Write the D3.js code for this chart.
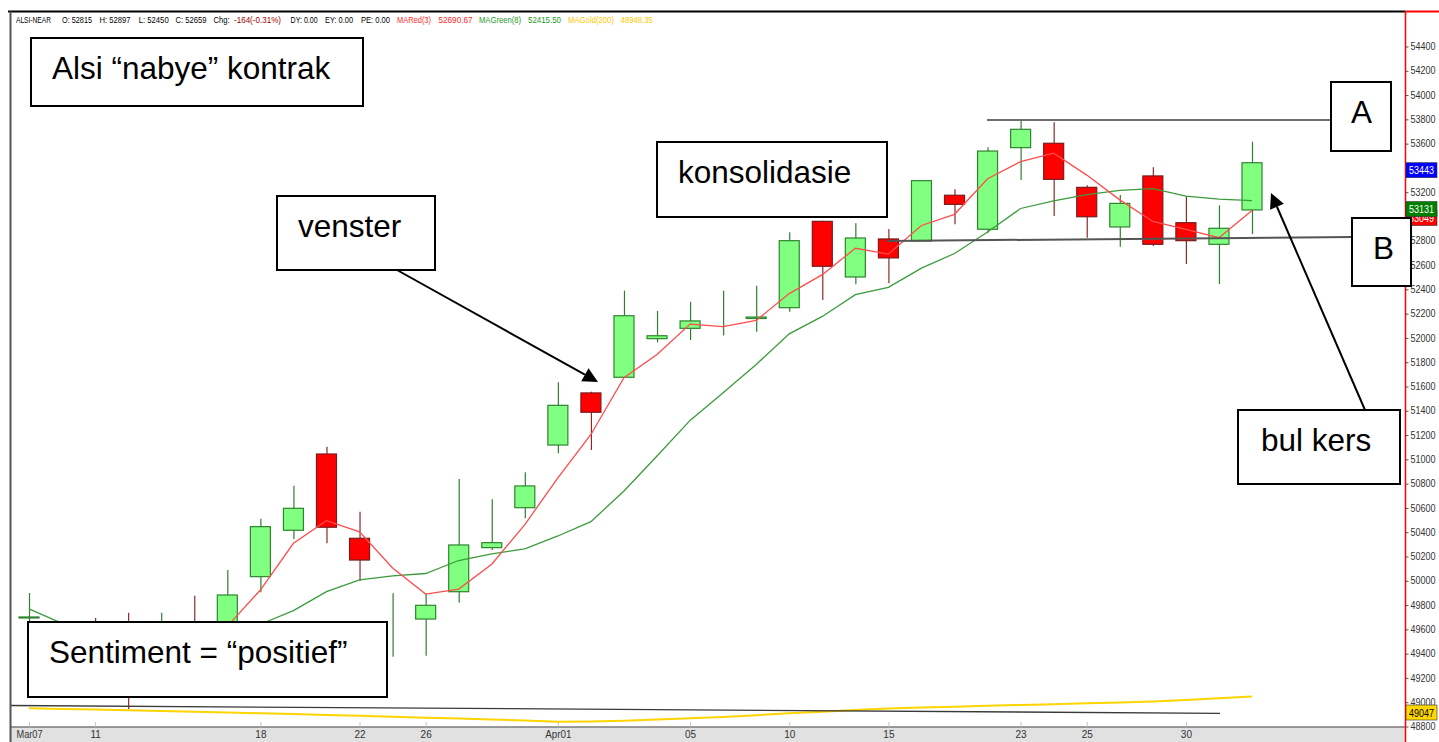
<!DOCTYPE html>
<html>
<head>
<meta charset="utf-8">
<script src="https://cdn.jsdelivr.net/npm/d3@7"></script>
<style>
body{margin:0;background:#fff;}
svg{display:block;font-family:"Liberation Sans",Arial,sans-serif;}
.axis text{font-family:"Liberation Sans",Arial,sans-serif;font-size:10px;fill:#333;}
.head text{font-family:"Liberation Sans",Arial,sans-serif;font-size:8.5px;}
</style>
</head>
<body>
<div id="chart"></div>
<script>
// trading days
const dates = ['Mar07','Mar08','Mar11','Mar12','Mar13','Mar14','Mar15','Mar18','Mar19','Mar20',
  'Mar22','Mar25','Mar26','Mar27','Mar28','Mar29','Apr01','Apr02','Apr03','Apr04',
  'Apr05','Apr08','Apr09','Apr10','Apr11','Apr12','Apr15','Apr16','Apr17','Apr18',
  'Apr23','Apr24','Apr25','Apr26','Apr29','Apr30','May02','May03'];

const opens  = [49700,49450,49600,49620,49420,49560,49500,50034,50416,51044,
  50350,49704,49685,49910,50273,50602,51118,51547,51676,51994,
  52079,52121,52160,52249,52960,52502,52815,52798,53175,52895,
  53567,53603,53240,52914,53334,52949,52771,53054];
const highs  = [49900,49520,49694,49737,49737,49877,50089,50511,50783,51104,
  50569,49897,49897,50838,50671,50894,51635,51557,52389,52222,
  52298,52389,52430,52870,52965,52944,52897,53300,53224,53570,
  53786,53776,53257,53177,53405,53169,53092,53616];
const lows   = [49450,49100,49300,48944,49380,49350,49450,49905,50344,50309,
  49998,49375,49383,49820,50254,50515,51050,51077,51670,51964,
  51983,52019,52051,52216,52312,52442,52450,52795,52936,52867,
  53301,53004,52825,52751,52757,52609,52444,52856];
const closes = [49702,49193,49395,49440,49550,49443,49883,50446,50597,50441,
  50171,49704,49798,50295,50314,50781,51445,51388,52183,52018,
  52140,52121,52172,52801,52590,52823,52659,53295,53100,53539,
  53718,53306,52998,53108,52771,52801,52903,53443];

// moving averages as drawn
const maRed = [49500,49480,49430,49343,49462,49478,49625,49924,50309,50495,
  50403,50105,49891,49932,50136,50463,50847,51205,51672,51863,
  52114,52093,52144,52365,52521,52738,52691,52926,53018,53311,
  53452,53521,53341,53137,52959,52893,52825,53049];
const maGreen = [49768,49650,49540,49500,49490,49510,49560,49642,49754,49910,
  50007,50040,50060,50167,50221,50263,50369,50487,50739,51028,
  51321,51549,51781,52034,52177,52356,52416,52575,52695,52872,
  53066,53129,53180,53215,53229,53168,53143,53131];
const maGold = [48950,48945,48940,48934,48928,48921,48915,48909,48902,48895,
  48888,48881,48873,48866,48858,48850,48840,48842,48848,48857,
  48867,48878,48893,48909,48922,48935,48948,48956,48963,48970,
  48977,48984,48991,48998,49005,49018,49032,49047];

const tickDates  = ['Mar07','Mar11','Mar18','Mar22','Mar26','Apr01','Apr05','Apr10','Apr15','Apr23','Apr25','Apr30'];
const tickLabels = ['Mar07','11','18','22','26','Apr01','05','10','15','23','25','30'];
const priceTicks = [48800,49000,49200,49400,49600,49800,50000,50200,50400,50600,50800,51000,
  51200,51400,51600,51800,52000,52200,52400,52600,52800,53000,53200,53400,53600,53800,54000,54200,54400];

const cursor = 26;   // bar shown in the header

// last values tagged on the price axis
const lastTags = [
  {value: 53443, fill: '#0000ff', color: '#fff', dy: 0},
  {value: 53049, fill: '#ff0000', color: '#fff', dy: 0},
  {value: 53131, fill: '#008000', color: '#fff', dy: 1},
  {value: 49047, fill: '#ffd700', color: '#000', dy: 8.5}
];

// annotation boxes
const notes = [
  {text: 'Alsi \u201cnabye\u201d kontrak', x: 31, y: 38, w: 332, h: 68, tx: 52},
  {text: 'venster', x: 277, y: 196, w: 158, h: 74, tx: 298},
  {text: 'konsolidasie', x: 657, y: 142, w: 230, h: 75, tx: 678},
  {text: 'A', x: 1331, y: 82, w: 60, h: 69, tx: 1351},
  {text: 'B', x: 1352, y: 218, w: 59, h: 68, tx: 1373},
  {text: 'bul kers', x: 1238, y: 410, w: 162, h: 74, tx: 1261},
  {text: 'Sentiment = \u201cpositief\u201d', x: 28, y: 622, w: 359, h: 75, tx: 49}
];

const W = 1439, H = 742;
const plotL = 10.5, plotR = 1405.5, plotT = 11.5, plotB = 727;

const x = d3.scalePoint(dates, [29, 1252]);
const y = d3.scaleLinear([48800, 54400], [726.5, 46.5]);

const svg = d3.select('#chart').append('svg')
  .attr('width', W).attr('height', H);

// time axis band
svg.append('rect').attr('x', plotL).attr('y', plotB)
  .attr('width', plotR - plotL).attr('height', H - plotB).attr('fill', '#e1e1e1');
svg.append('line').attr('x1', plotL).attr('x2', plotR).attr('y1', plotB).attr('y2', plotB)
  .attr('stroke', '#7a7a7a').attr('stroke-width', 1.5);

const axisX = svg.append('g').attr('class', 'axis')
  .attr('transform', `translate(0,${plotB})`)
  .call(d3.axisBottom(x).tickValues(tickDates)
    .tickFormat(d => tickLabels[tickDates.indexOf(d)])
    .tickSizeInner(-5).tickSizeOuter(0).tickPadding(4));
axisX.select('.domain').remove();
axisX.selectAll('.tick line').attr('stroke', '#c4c4c4');
axisX.selectAll('.tick text').filter(d => d.length > 3 && tickLabels[tickDates.indexOf(d)].length > 2)
  .attr('textLength', 26).attr('lengthAdjust', 'spacingAndGlyphs');

// gold MA and the lower trend line
const line = d3.line().x((d, i) => x(dates[i])).y(d => y(d));
svg.append('path').attr('d', line(maGold))
  .attr('fill', 'none').attr('stroke', '#ffd400').attr('stroke-width', 2);
svg.append('line').attr('x1', plotL).attr('y1', 705.5).attr('x2', 1220).attr('y2', 713.3)
  .attr('stroke', '#3a3a3a').attr('stroke-width', 1.3);

// candles
const bars = d3.range(dates.length).map(i => ({
  d: dates[i], o: opens[i], h: highs[i], l: lows[i], c: closes[i], up: closes[i] >= opens[i]
}));
const bw = 20;
const candles = svg.append('g').selectAll('g').data(bars).join('g');
candles.append('line')
  .attr('x1', d => x(d.d) + 0.5).attr('x2', d => x(d.d) + 0.5)
  .attr('y1', d => y(d.h)).attr('y2', d => y(d.l))
  .attr('stroke', d => d.up ? '#2f7f2f' : '#8b2a2a').attr('stroke-width', 1.2);
candles.filter(d => d.o !== d.c).append('rect')
  .attr('x', d => x(d.d) - bw / 2).attr('width', bw)
  .attr('y', d => y(Math.max(d.o, d.c)))
  .attr('height', d => Math.max(1, y(Math.min(d.o, d.c)) - y(Math.max(d.o, d.c))))
  .attr('fill', d => d.up ? '#80ff80' : '#ff0000')
  .attr('stroke', d => d.up ? '#2e852e' : '#7d1a1a').attr('stroke-width', 1.2);

// red and green MA
svg.append('path').attr('d', line(maGreen))
  .attr('fill', 'none').attr('stroke', '#3b9b3b').attr('stroke-width', 1.3);
svg.append('path').attr('d', line(maRed))
  .attr('fill', 'none').attr('stroke', '#ff4c4c').attr('stroke-width', 1.3);

// frame
svg.append('line').attr('x1', 8).attr('x2', plotR).attr('y1', plotT).attr('y2', plotT)
  .attr('stroke', '#000').attr('stroke-width', 2);
svg.append('line').attr('x1', plotR).attr('x2', W).attr('y1', plotT).attr('y2', plotT)
  .attr('stroke', '#ff0000').attr('stroke-width', 2);
svg.append('line').attr('x1', plotL).attr('x2', plotL).attr('y1', plotT).attr('y2', H)
  .attr('stroke', '#555').attr('stroke-width', 2);

// price axis
const axisY = svg.append('g').attr('class', 'axis')
  .attr('transform', `translate(${plotR},0)`)
  .call(d3.axisRight(y).tickValues(priceTicks).tickFormat(d3.format('d'))
    .tickSizeInner(3).tickSizeOuter(0).tickPadding(2));
axisY.select('.domain').remove();
axisY.selectAll('.tick line').attr('stroke', '#555');
axisY.selectAll('.tick text').attr('textLength', 25).attr('lengthAdjust', 'spacingAndGlyphs');
svg.append('line').attr('x1', plotR).attr('x2', plotR).attr('y1', plotT).attr('y2', H)
  .attr('stroke', '#ff0000').attr('stroke-width', 1.5);

const tags = svg.append('g').selectAll('g').data(lastTags).join('g')
  .attr('transform', d => `translate(${plotR + 0.5},${y(d.value) + d.dy})`);
tags.append('rect').attr('width', 31).attr('height', 15)
  .attr('fill', d => d.fill).attr('stroke', '#333').attr('stroke-width', 0.6);
tags.append('text').attr('x', 3).attr('y', 11.5)
  .attr('textLength', 25).attr('lengthAdjust', 'spacingAndGlyphs')
  .attr('fill', d => d.color).style('font-size', '10px')
  .text(d => d3.format('d')(d.value));

// header line
const chg = closes[cursor] - closes[cursor - 1];
const pct = (chg / closes[cursor - 1] * 100).toFixed(2);
const header = [
  ['ALSI-NEAR', 16, 35, '#000'],
  [`O: ${opens[cursor]}`, 62, 30, '#000'],
  [`H: ${highs[cursor]}`, 99.6, 31, '#000'],
  [`L: ${lows[cursor]}`, 138.7, 30, '#000'],
  [`C: ${closes[cursor]}`, 175.4, 31, '#000'],
  ['Chg:', 213.5, 16, '#000'],
  [`${chg}(${pct}%)`, 234, 47, '#a00000'],
  ['DY: 0.00', 290.6, 27, '#000'],
  ['EY: 0.00', 325, 28, '#000'],
  ['PE: 0.00', 361, 29, '#000'],
  ['MARed(3)', 397, 34, '#ff2a2a'],
  ['52690.67', 438.5, 34, '#ff2a2a'],
  ['MAGreen(8)', 479, 42, '#1f9a1f'],
  ['52415.50', 528, 33, '#1f9a1f'],
  ['MAGold(200)', 568, 46, '#ffc800'],
  ['48948.35', 620.7, 32, '#ffc800']
];
svg.append('g').attr('class', 'head').selectAll('text').data(header).join('text')
  .attr('x', d => d[1]).attr('y', 23)
  .attr('textLength', d => d[2]).attr('lengthAdjust', 'spacingAndGlyphs')
  .attr('fill', d => d[3]).text(d => d[0]);

// level lines A and B
svg.append('line').attr('x1', 987).attr('x2', 1331).attr('y1', 120).attr('y2', 120)
  .attr('stroke', '#6e6e6e').attr('stroke-width', 2);
svg.append('line').attr('x1', 887).attr('x2', 1352).attr('y1', 241).attr('y2', 237)
  .attr('stroke', '#555').attr('stroke-width', 2);

// arrows
function arrow(x1, y1, x2, y2){
  const a = Math.atan2(y2 - y1, x2 - x1), len = 15, half = 7.5;
  const bx = x2 - len * Math.cos(a), by = y2 - len * Math.sin(a);
  svg.append('line').attr('x1', x1).attr('y1', y1).attr('x2', bx).attr('y2', by)
    .attr('stroke', '#000').attr('stroke-width', 2);
  const pts = [[x2, y2],
    [bx + half * Math.sin(a), by - half * Math.cos(a)],
    [bx - half * Math.sin(a), by + half * Math.cos(a)]];
  svg.append('polygon').attr('points', pts.map(p => p.join(',')).join(' ')).attr('fill', '#000');
}
arrow(397, 270, 598, 382);
arrow(1365, 410, 1271, 193);

// annotation boxes
const boxes = svg.append('g').selectAll('g').data(notes).join('g');
boxes.append('rect')
  .attr('x', d => d.x).attr('y', d => d.y).attr('width', d => d.w).attr('height', d => d.h)
  .attr('fill', '#fff').attr('stroke', '#000').attr('stroke-width', 2);
boxes.append('text')
  .attr('x', d => d.tx).attr('y', d => d.y + 41)
  .style('font-size', '31.5px').attr('fill', '#000')
  .text(d => d.text);
</script>
</body>
</html>
